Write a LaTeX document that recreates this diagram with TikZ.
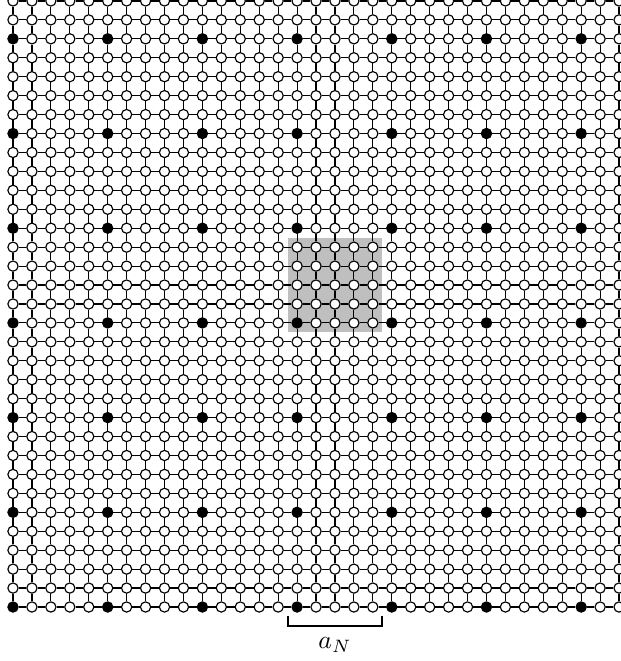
\documentclass[tikz,border=0pt]{standalone}
\begin{document}
\begin{tikzpicture}[x=0.26cm,y=0.26cm,
  site/.style={circle,draw,fill=white,line width=0.45pt,minimum size=4.0pt,inner sep=0pt},
  hole/.style={site,fill=black},
  bond/.style={line width=0.45pt},
  cell/.style={fill=black!25},
  bracket/.style={line width=0.7pt}]
\useasboundingbox (-0.686,-2.851) rectangle (32.10,32.05);
\begin{scope}
\clip (-0.686,-2.851) rectangle (32.10,32.05);
\fill[cell] (14.5,14.5) rectangle (19.5,19.5);
\foreach \i in {0,...,33}{
  \foreach \j in {0,...,33}{
    \pgfmathtruncatemacro\a{mod(\i,5)+mod(\j,5)}
    \ifnum\a=0
      \node[hole] (n-\i-\j) at (\i,\j) {};
    \else
      \node[site] (n-\i-\j) at (\i,\j) {};
    \fi
  }
}
\foreach \i in {0,...,32}{
  \pgfmathtruncatemacro\k{\i+1}
  \foreach \j in {0,...,33}{
    \draw[bond] (n-\i-\j) -- (n-\k-\j);
    \draw[bond] (n-\j-\i) -- (n-\j-\k);
  }
}
\end{scope}
\coordinate (b1) at (14.5,-0.5);
\coordinate (b2) at (14.5,-1);
\coordinate (b3) at (19.5,-1);
\coordinate (b4) at (19.5,-0.5);
\draw[bracket] (b1) -- (b2) -- (b3) -- (b4);
\node (lab) at (17,-2.0) {$a_N$};
\end{tikzpicture}
\end{document}
